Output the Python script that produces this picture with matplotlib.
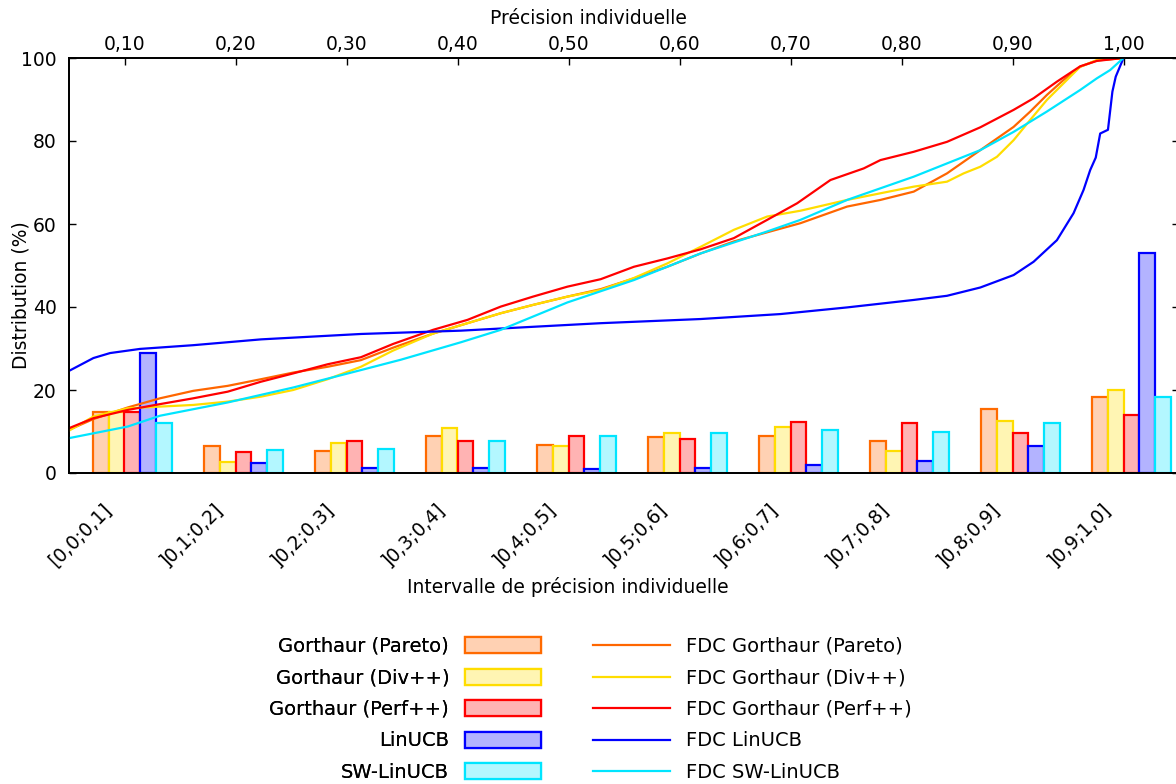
import numpy as np
import matplotlib
matplotlib.use('Agg')
import matplotlib.pyplot as plt
from matplotlib.transforms import ScaledTranslation

# histogram categories
intervals = ['[0,0;0,1]', ']0,1;0,2]', ']0,2;0,3]', ']0,3;0,4]', ']0,4;0,5]',
             ']0,5;0,6]', ']0,6;0,7]', ']0,7;0,8]', ']0,8;0,9]', ']0,9;1,0]']

# share of users per precision interval (%)
pareto_hist = [14.8, 6.4, 5.2, 8.9, 6.8, 8.7, 8.9, 7.7, 15.4, 18.2]
div_hist = [14.8, 2.6, 7.3, 10.8, 6.4, 9.7, 11.0, 5.3, 12.5, 20.0]
perf_hist = [14.6, 5.0, 7.6, 7.8, 9.0, 8.1, 12.3, 12.0, 9.7, 13.9]
linucb_hist = [29.0, 2.3, 1.3, 1.1, 1.0, 1.3, 1.9, 2.8, 6.5, 52.9]
swlinucb_hist = [12.0, 5.5, 5.9, 7.6, 8.8, 9.7, 10.3, 9.8, 12.1, 18.4]

# cumulative distributions (x = precision, y = %)
pareto_x = [0.05, 0.072, 0.103, 0.132, 0.162, 0.193, 0.223, 0.252, 0.283, 0.313, 0.342,
            0.378, 0.409, 0.439, 0.468, 0.499, 0.529, 0.559, 0.589, 0.619, 0.649, 0.679,
            0.709, 0.751, 0.781, 0.811, 0.841, 0.871, 0.901, 0.916, 0.931, 0.946, 0.961,
            0.976, 1.0]
pareto_y = [10.4, 13.0, 15.8, 18.0, 19.8, 21.0, 22.6, 24.2, 25.6, 27.2, 30.2,
            33.6, 36.1, 38.5, 40.5, 42.5, 44.3, 46.9, 49.7, 52.9, 55.8, 58.0,
            60.2, 64.2, 65.8, 67.8, 72.2, 77.8, 83.4, 87.1, 91.1, 94.7, 97.9,
            99.4, 100.0]

div_x = [0.05, 0.072, 0.103, 0.132, 0.162, 0.193, 0.223, 0.252, 0.283, 0.313, 0.342,
         0.378, 0.409, 0.439, 0.468, 0.499, 0.529, 0.559, 0.589, 0.619, 0.649, 0.679,
         0.709, 0.751, 0.781, 0.811, 0.841, 0.856, 0.871, 0.886, 0.901, 0.916, 0.931,
         0.946, 0.961, 0.976, 1.0]
div_y = [10.2, 13.6, 15.6, 16.0, 16.4, 17.2, 18.4, 20.0, 22.6, 25.6, 29.5,
         33.6, 36.1, 38.5, 40.5, 42.5, 44.1, 47.0, 50.5, 54.5, 58.6, 61.8,
         63.2, 65.8, 67.4, 69.0, 70.2, 72.2, 73.8, 76.2, 80.2, 85.1, 89.9,
         93.9, 97.9, 99.5, 100.0]

perf_x = [0.05, 0.072, 0.103, 0.132, 0.162, 0.193, 0.223, 0.252, 0.283, 0.313, 0.342,
          0.378, 0.409, 0.439, 0.468, 0.499, 0.529, 0.559, 0.589, 0.619, 0.649, 0.679,
          0.706, 0.736, 0.766, 0.781, 0.811, 0.841, 0.871, 0.901, 0.919, 0.940, 0.961,
          0.976, 1.0]
perf_y = [10.8, 13.2, 15.2, 16.6, 18.0, 19.6, 22.0, 24.0, 26.2, 27.9, 31.1,
          34.5, 36.9, 40.1, 42.5, 44.9, 46.7, 49.7, 51.7, 53.9, 56.6, 61.0,
          65.0, 70.6, 73.4, 75.4, 77.4, 79.8, 83.3, 87.5, 90.3, 94.3, 98.0,
          99.3, 100.0]

linucb_x = [0.05, 0.072, 0.087, 0.114, 0.162, 0.223, 0.313, 0.403, 0.529, 0.619, 0.691,
            0.751, 0.811, 0.841, 0.871, 0.901, 0.919, 0.940, 0.955, 0.964, 0.970, 0.975,
            0.979, 0.986, 0.990, 0.993, 1.0]
linucb_y = [24.6, 27.7, 28.9, 29.9, 30.8, 32.2, 33.5, 34.3, 36.1, 37.1, 38.3,
            39.9, 41.7, 42.7, 44.7, 47.7, 50.9, 56.1, 62.6, 68.2, 73.0, 76.0,
            81.8, 82.7, 91.9, 95.5, 100.0]

swlinucb_x = [0.05, 0.103, 0.132, 0.193, 0.252, 0.313, 0.349, 0.403, 0.439, 0.499, 0.559,
              0.619, 0.679, 0.709, 0.751, 0.811, 0.871, 0.901, 0.931, 0.961, 0.976, 0.988, 1.0]
swlinucb_y = [8.4, 11.2, 13.8, 17.0, 20.6, 24.8, 27.3, 31.5, 34.5, 41.1, 46.5,
              52.9, 58.2, 61.0, 65.8, 71.4, 77.8, 82.2, 87.1, 92.3, 95.1, 97.1, 100.0]

names = ['Gorthaur (Pareto)', 'Gorthaur (Div++)', 'Gorthaur (Perf++)', 'LinUCB', 'SW-LinUCB']
edge_colors = ['#ff6a00', '#ffdd00', '#ff0000', '#0000ff', '#00e5ff']
fill_colors = ['#ffd1b3', '#fff5b3', '#ffb3b3', '#b3b3ff', '#b3f7ff']
line_colors = ['#ff6600', '#ffdd00', '#ff0000', '#0000ff', '#00e5ff']

hists = [pareto_hist, div_hist, perf_hist, linucb_hist, swlinucb_hist]
cdfs = [(pareto_x, pareto_y), (div_x, div_y), (perf_x, perf_y),
        (linucb_x, linucb_y), (swlinucb_x, swlinucb_y)]

plt.rcParams['font.family'] = ['DejaVu Sans']
plt.rcParams['font.size'] = 13.5

fig = plt.figure(figsize=(11.76, 7.84), dpi=100)
ax = fig.add_axes([69 / 1176, 311 / 784, 1110 / 1176, 415 / 784])
ax2 = ax.twiny()

idx = np.arange(len(intervals))
w = 1 / 7
bars = []
for k in range(5):
    b = ax.bar(idx + (k - 2) * w, hists[k], width=w, color=fill_colors[k],
               edgecolor=edge_colors[k], linewidth=1.6, label=names[k])
    bars.append(b)

ax.set_xlim(-4 / 7, 9 + 3 / 7)
ax.set_ylim(0, 100)
ax.set_xticks(idx)
ax.set_xticklabels([])
ax.tick_params(axis='x', length=0)
# rotated category labels, shifted like gnuplot's "rotate by 45 right"
shift = ScaledTranslation(-0.17, -0.27, fig.dpi_scale_trans)
for i, lab in enumerate(intervals):
    ax.text(i, 0, lab, rotation=45, ha='right', va='top',
            transform=ax.get_xaxis_transform() + shift)
ax.set_yticks(range(0, 101, 20))
ax.tick_params(axis='y', direction='in', length=5, right=True, width=1, pad=9)

lines = []
for k in range(5):
    l, = ax2.plot(cdfs[k][0], cdfs[k][1], color=line_colors[k],
                  linewidth=1.6, label='FDC ' + names[k])
    lines.append(l)

ax2.set_xlim(0.05, 1.05)
ticks = np.round(np.arange(0.1, 1.01, 0.1), 2)
ax2.set_xticks(ticks)
ax2.set_xticklabels([('%.2f' % t).replace('.', ',') for t in ticks])
ax2.tick_params(axis='x', direction='in', length=5, width=1, pad=3)

for a in (ax, ax2):
    for s in a.spines.values():
        s.set_linewidth(1.3)

ax.set_xlabel('Intervalle de précision individuelle')
ax.xaxis.set_label_coords(0.449, -0.250)
ax.set_ylabel('Distribution (%)')
ax.yaxis.set_label_coords(-0.035, 0.429)
ax2.set_xlabel('Précision individuelle')
ax2.xaxis.set_label_coords(0.468, 1.082)

leg1 = fig.legend(bars, names, loc='upper right', bbox_to_anchor=(541 / 1176, 1 - 637 / 784),
                  frameon=False, markerfirst=False, fontsize=14, handlelength=3.9,
                  handleheight=0.88, handletextpad=0.82, labelspacing=0.64,
                  borderpad=0, borderaxespad=0)
leg2 = fig.legend(lines, ['FDC ' + n for n in names], loc='upper left',
                  bbox_to_anchor=(593 / 1176, 1 - 637 / 784),
                  frameon=False, fontsize=14, handlelength=3.95, handletextpad=0.82,
                  labelspacing=0.64, borderpad=0, borderaxespad=0)
fig.add_artist(leg1)

fig.savefig('out.png', dpi=100)
